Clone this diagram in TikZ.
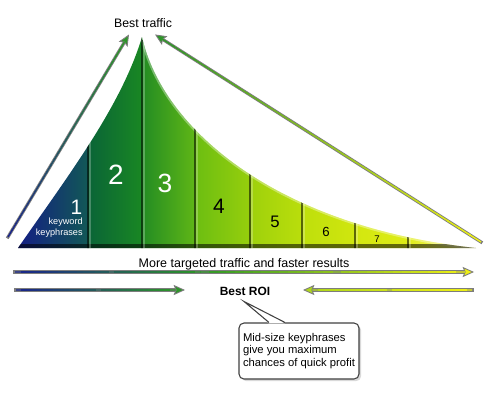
\documentclass[tikz,border=0pt]{standalone}
\usepackage{fontspec}
\setmainfont{Liberation Sans}
\usetikzlibrary{arrows.meta,calc,shadows}

% bar colours, left and right end of each bar
\definecolor{seg1l}{RGB}{20,30,132}
\definecolor{seg1r}{RGB}{18,88,86}
\definecolor{seg2l}{RGB}{10,100,55}
\definecolor{seg2r}{RGB}{25,135,35}
\definecolor{seg3l}{RGB}{35,140,35}
\definecolor{seg3r}{RGB}{95,182,22}
\definecolor{seg4l}{RGB}{108,190,18}
\definecolor{seg4r}{RGB}{150,206,12}
\definecolor{seg5l}{RGB}{158,209,12}
\definecolor{seg5r}{RGB}{186,222,12}
\definecolor{seg6l}{RGB}{190,223,12}
\definecolor{seg6r}{RGB}{208,230,14}
\definecolor{seg7l}{RGB}{211,231,15}
\definecolor{seg7r}{RGB}{222,236,22}
\definecolor{seg8l}{RGB}{224,237,24}
\definecolor{seg8r}{RGB}{248,248,150}
% arrow colours
\definecolor{arrblue}{RGB}{25,35,140}
\definecolor{arrgreen}{RGB}{45,150,40}
\definecolor{arrlime}{RGB}{175,215,25}
\definecolor{arryellow}{RGB}{238,240,20}
\definecolor{rimgray}{RGB}{125,125,125}

\newcommand{\gradline}[4]{%
  \foreach \i in {1,...,30} {
    \pgfmathtruncatemacro{\mix}{(\i-0.5)*100/30}
    \draw[line width=.8pt, color=#4!\mix!#3] ($(#1)!{(\i-1)/30}!(#2)$) -- ($(#1)!{(\i+0.2)/30}!(#2)$);
  }}

\begin{document}
\begin{tikzpicture}[x=0.02cm, y=0.02cm,
    rim/.style={draw=rimgray, line width=1.8pt, line cap=rect},
    headto/.style={-{Stealth[length=6.5pt, width=5.8pt, inset=1.2pt, line width=.5pt, fill=#1]}},
    txt/.style={inner sep=0pt, text=black},
    digit/.style={inner sep=0pt, text=white},
    note/.style={draw=black!75, line width=.6pt, fill=white, rounded corners=2.8pt,
      minimum width=2.4cm, minimum height=1.12cm, align=left, inner sep=0pt,
      drop shadow={shadow xshift=1.2pt, shadow yshift=-1.2pt, opacity=.3}}]
  \useasboundingbox (0,0) rectangle (500,400);

  % the traffic curve
  \begin{scope}
    \clip (18,152) .. controls (67,223) and (121,293) .. (142,363)
      .. controls (163,270) and (278,173) .. (476,152) -- cycle;
    \foreach \xa/\xb/\n in {18/88/1, 88/142/2, 142/195/3, 195/250/4, 250/302/5, 302/355/6, 355/408/7, 408/476/8}
      \shade[left color=seg\n l, right color=seg\n r] (\xa,150) rectangle (\xb,370);
    \draw[white, opacity=.35, line width=2pt] (142,363) .. controls (163,270) and (278,173) .. (476,152);
    \fill[black, opacity=.55] (0,150) rectangle (500,156);
    \foreach \xd in {88,142,195,250,302,355,408} {
      \draw[black, opacity=.55, line width=1pt] (\xd,150) -- (\xd,370);
      \draw[white, opacity=.25, line width=.8pt] (\xd+2,150) -- (\xd+2,370);
    }
  \end{scope}

  % labels
  \node[txt, font=\fontsize{7}{8}\selectfont, anchor=base] (traffic) at (143,373) {Best traffic};
  \node[digit, font=\fontsize{11.9}{12}\selectfont, anchor=east] (d1) at (82.5,192.5) {1};
  \node[digit, font=\fontsize{5.2}{6.2}\selectfont, align=right, anchor=east] (kw) at (83,172.5) {keyword\\keyphrases};
  \node[digit, font=\fontsize{15.9}{16}\selectfont] (d2) at (116,225) {2};
  \node[digit, font=\fontsize{15}{16}\selectfont] (d3) at (165,217) {3};
  \node[txt, font=\fontsize{11.9}{12}\selectfont] (d4) at (219,194) {4};
  \node[txt, font=\fontsize{9.5}{10}\selectfont] (d5) at (275,178) {5};
  \node[txt, font=\fontsize{7.5}{8}\selectfont] (d6) at (326,168) {6};
  \node[txt, font=\fontsize{5.5}{6}\selectfont] (d7) at (377,160.5) {7};
  \node[txt, font=\fontsize{7.1}{8}\selectfont, anchor=base] (results) at (244,133) {More targeted traffic and faster results};
  \node[txt, font=\bfseries\fontsize{6.8}{8}\selectfont, anchor=base] (roi) at (245,105) {Best ROI};
  \node[note, font=\fontsize{6.4}{7.3}\selectfont] (note) at (299,49) {Mid-size keyphrases\\give you maximum\\chances of quick profit};

  % arrows up to the best traffic
  \coordinate (ltail) at (8,163);
  \coordinate (ltip) at ($(traffic.south)+(-14,-7)$);
  \coordinate (rtail) at (481,158);
  \coordinate (rtip) at ($(traffic.south)+(12,-7)$);
  \draw[rim, draw=black!50, headto=arrgreen] (ltail) -- (ltip);
  \coordinate (lhead) at ($(ltip)!6pt!(ltail)$);
  \gradline{ltail}{lhead}{arrblue}{arrgreen}
  \draw[rim, headto=arrgreen] (rtail) -- (rtip);
  \coordinate (rhead) at ($(rtip)!6pt!(rtail)$);
  \gradline{rtail}{rhead}{arryellow}{arrgreen}

  % long arrow
  \coordinate (mtail) at (15,128);
  \coordinate (mtip) at (474,128);
  \coordinate (mmid) at (200,128);
  \draw[rim, headto=arryellow] (mtail) -- (mtip);
  \coordinate (mhead) at ($(mtip)!6pt!(mtail)$);
  \gradline{mtail}{mmid}{arrblue}{arrgreen}
  \gradline{mmid}{mhead}{arrgreen}{arryellow}

  % arrows to the best roi
  \coordinate (roileft) at (16,110);
  \coordinate (roilefttip) at (185,110);
  \coordinate (roiright) at (472,110);
  \coordinate (roirighttip) at (303,110);
  \draw[rim, headto=arrgreen] (roileft) -- (roilefttip);
  \coordinate (llhead) at ($(roilefttip)!6pt!(roileft)$);
  \gradline{roileft}{llhead}{arrblue}{arrgreen}
  \draw[rim, headto=arrlime] (roiright) -- (roirighttip);
  \coordinate (rrhead) at ($(roirighttip)!6pt!(roiright)$);
  \gradline{roiright}{rrhead}{arryellow}{arrlime}

  % callout pointer
  \coordinate (ptr) at ($(roi.south)+(-1,-6)$);
  \fill[white] ($(note.north)+(-30,-1)$) -- (ptr) -- ($(note.north)+(-14,-1)$) -- cycle;
  \draw[black!75, line width=.6pt] ($(note.north)+(-30,0)$) -- (ptr) -- ($(note.north)+(-14,0)$);
\end{tikzpicture}
\end{document}
